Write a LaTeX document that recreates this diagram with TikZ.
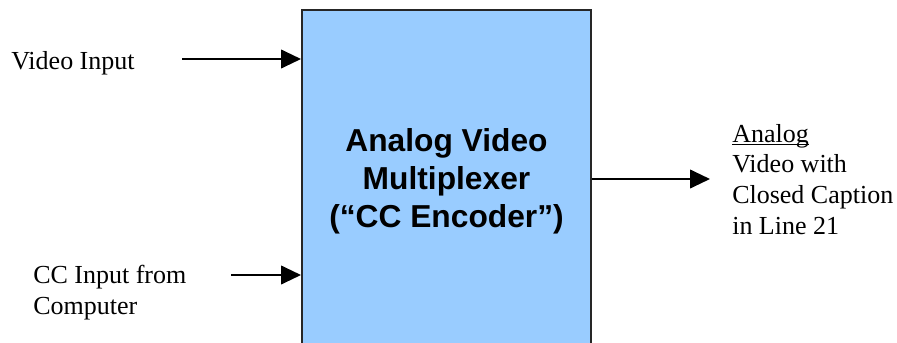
\documentclass[tikz,border=0pt]{standalone}
\usepackage{fontspec}
\setmainfont{Liberation Serif}
\newfontfamily\arialfont{Liberation Sans}
\usetikzlibrary{arrows.meta}
\definecolor{boxblue}{HTML}{99CCFF}
\begin{document}
\begin{tikzpicture}[x=0.75pt,y=-0.75pt,
  lbl/.style={inner sep=0pt, font=\fontsize{19.5}{22.9}\selectfont, align=left},
  feed/.style={line width=1.5pt, -{Triangle[length=15pt,width=14pt]}},
  blockbox/.style={draw=black!85, line width=1.5pt, fill=boxblue, minimum width=289*0.75pt, minimum height=400*0.75pt, inner sep=0pt}]
\useasboundingbox (0,0) rectangle (897,343);
\clip (0,0) rectangle (897,343);
\node[blockbox] (box) at (446.5,210) {};
\node[inner sep=0pt, align=center, font=\arialfont\bfseries\fontsize{23.8}{28.6}\selectfont] (title) at (446.5,181) {Analog Video\\Multiplexer\\(“CC Encoder”)};
\node[lbl, anchor=base west] (vin) at (11,69) {Video Input};
\coordinate (vinstart) at (182,59);
\draw[feed] (vinstart) -- (vinstart -| box.west);
\node[lbl, anchor=north west] (ccin) at (33,265) {CC Input from\\Computer};
\coordinate (ccstart) at (231,275);
\draw[feed] (ccstart) -- (ccstart -| box.west);
\coordinate (outstart) at (box.east |- 0,179);
\coordinate (outend) at (710,179);
\draw[feed] (outstart) -- (outend);
\node[lbl, anchor=north west] (out) at (732,125) {\underline{\vphantom{A}\smash{Analog}}\\Video with\\Closed Caption\\in Line 21};
\end{tikzpicture}
\end{document}
